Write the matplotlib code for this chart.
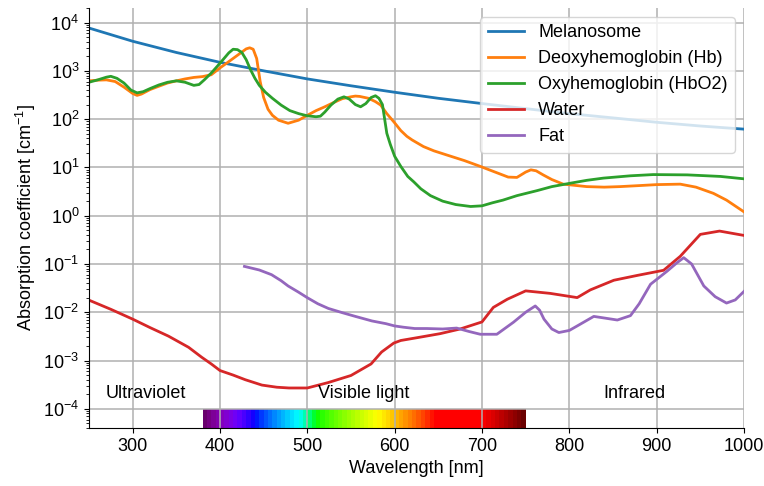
import numpy as np
import matplotlib
matplotlib.use('Agg')
import matplotlib.pyplot as plt
from matplotlib.colors import ListedColormap

plt.rcParams['font.family'] = ['Liberation Sans', 'DejaVu Sans']
plt.rcParams['font.size'] = 13
plt.rcParams['mathtext.fontset'] = 'custom'
plt.rcParams['mathtext.rm'] = 'Liberation Sans'
plt.rcParams['mathtext.it'] = 'Liberation Sans:italic'
plt.rcParams['mathtext.bf'] = 'Liberation Sans:bold'

# Melanosome
mel_wl = [250, 300, 350, 400, 450, 500, 550, 600, 650, 700, 750, 800, 850, 900, 950, 1000]
mel_mu = [7700, 4100, 2400, 1500, 1000, 680, 490, 360, 270, 210, 165, 130, 106, 86, 72, 62]

# Deoxyhemoglobin (Hb)
hb_wl = [250, 260, 270, 280, 290, 300, 305, 310, 320, 330, 340, 350, 360, 370, 380, 390,
         400, 410, 420, 430, 434, 438, 442, 446, 450, 455, 460, 467, 478, 490, 500, 510,
         520, 530, 540, 550, 555, 560, 570, 578, 584, 591, 599, 607, 614, 620, 633, 645,
         660, 680, 698, 715, 730, 740, 750, 756, 762, 770, 780, 793, 820, 840, 858, 880,
         900, 927, 945, 965, 980, 1000]
hb_mu = [620, 640, 650, 600, 460, 340, 310, 330, 410, 480, 560, 620, 680, 730, 760, 830,
         1150, 1550, 2100, 2850, 3000, 2800, 1800, 600, 280, 160, 120, 95, 82, 95, 120, 150,
         180, 220, 265, 290, 300, 295, 270, 230, 195, 130, 88, 58, 44, 37, 27, 22,
         18, 13.8, 10.5, 8.0, 6.3, 6.2, 8.0, 8.9, 8.5, 7.0, 5.6, 4.5, 4.0, 3.9, 4.0, 4.2,
         4.4, 4.5, 3.9, 2.9, 2.1, 1.2]

# Oxyhemoglobin (HbO2)
hbo_wl = [250, 260, 270, 275, 282, 290, 298, 305, 312, 320, 330, 340, 350, 360, 370, 376,
          382, 390, 397, 404, 410, 415, 420, 425, 430, 435, 440, 445, 452, 460, 470, 480,
          490, 500, 510, 515, 520, 527, 535, 542, 548, 555, 561, 567, 573, 578, 582, 586,
          591, 595, 600, 607, 615, 622, 630, 641, 655, 670, 687, 700, 712, 724, 740, 763,
          780, 801, 820, 839, 870, 896, 935, 973, 1000]
hbo_mu = [580, 650, 740, 770, 700, 560, 400, 350, 370, 430, 510, 580, 620, 580, 500, 520,
          650, 900, 1250, 1750, 2350, 2800, 2750, 2400, 1700, 1050, 700, 500, 360, 270, 195, 150,
          130, 117, 112, 115, 140, 195, 260, 290, 260, 200, 180, 210, 280, 305, 270, 200,
          51, 30, 17, 10.5, 6.5, 5.0, 3.6, 2.6, 2.0, 1.7, 1.55, 1.6, 1.85, 2.1, 2.6, 3.3,
          4.0, 4.7, 5.4, 6.0, 6.7, 7.1, 7.0, 6.5, 5.8]

# Water
water_wl = [250, 275, 300, 320, 341, 364, 379, 390, 400, 415, 429, 448, 465, 479, 500, 524,
            550, 573, 585, 599, 607, 627, 652, 675, 700, 713, 729, 750, 778, 809, 824, 851,
            878, 908, 927, 950, 972, 1000]
water_mu = [0.0178, 0.0115, 0.0072, 0.0048, 0.0032, 0.00188, 0.00117, 0.00085, 0.00062,
            0.00050, 0.00040, 0.00031, 0.00028, 0.00027, 0.00027, 0.00035, 0.00049, 0.00085,
            0.0015, 0.0023, 0.0026, 0.0030, 0.0036, 0.0045, 0.0063, 0.0126, 0.0186, 0.0277,
            0.0246, 0.0201, 0.029, 0.046, 0.058, 0.074, 0.144, 0.41, 0.48, 0.39]

# Fat
fat_wl = [428, 445, 459, 470, 478, 490, 500, 512, 524, 540, 555, 574, 590, 600, 610, 623,
          637, 655, 671, 685, 698, 717, 736, 750, 761, 766, 771, 780, 788, 800, 809, 828,
          840, 855, 870, 880, 893, 912, 923, 931, 940, 954, 967, 980, 990, 1000]
fat_mu = [0.089, 0.075, 0.060, 0.045, 0.035, 0.026, 0.020, 0.015, 0.012, 0.0098, 0.0082,
          0.0066, 0.0058, 0.0052, 0.0049, 0.0046, 0.0046, 0.0045, 0.0047, 0.0040, 0.0035,
          0.0035, 0.0062, 0.0100, 0.0135, 0.0110, 0.0072, 0.0045, 0.0038, 0.0042, 0.0052,
          0.0082, 0.0076, 0.0069, 0.0085, 0.015, 0.038, 0.071, 0.105, 0.135, 0.10, 0.035,
          0.021, 0.0155, 0.018, 0.027]

region_labels = ['Ultraviolet', 'Visible light', 'Infrared']
region_x = [315, 565, 875]


def wavelength_to_rgb(wl, gamma=0.8):
    if wl < 440:
        r, g, b = -(wl - 440) / (440 - 380), 0.0, 1.0
    elif wl < 490:
        r, g, b = 0.0, (wl - 440) / (490 - 440), 1.0
    elif wl < 510:
        r, g, b = 0.0, 1.0, -(wl - 510) / (510 - 490)
    elif wl < 580:
        r, g, b = (wl - 510) / (580 - 510), 1.0, 0.0
    elif wl < 645:
        r, g, b = 1.0, -(wl - 645) / (645 - 580), 0.0
    else:
        r, g, b = 1.0, 0.0, 0.0
    if wl < 420:
        f = 0.3 + 0.7 * (wl - 380) / (420 - 380)
    elif wl > 700:
        f = 0.3 + 0.7 * (750 - wl) / (750 - 700)
    else:
        f = 1.0
    return ((r * f) ** gamma, (g * f) ** gamma, (b * f) ** gamma)


ylo, yhi = 4e-5, 2e4

fig = plt.figure(figsize=(7.64, 4.86), dpi=100)
ax = fig.add_axes([0.1165, 0.1193, 0.8573, 0.8642])

# visible spectrum strip
edges = np.arange(380, 751, 5)
centers = (edges[:-1] + edges[1:]) / 2
cmap = ListedColormap([wavelength_to_rgb(w) for w in centers])
ax.pcolormesh(edges, [ylo, 1e-4], np.arange(len(centers)).reshape(1, -1),
              cmap=cmap, shading='flat', antialiased=False, linewidth=0, zorder=1)

ax.plot(mel_wl, mel_mu, color='tab:blue', lw=2, label='Melanosome')
ax.plot(hb_wl, hb_mu, color='tab:orange', lw=2, label='Deoxyhemoglobin (Hb)')
ax.plot(hbo_wl, hbo_mu, color='tab:green', lw=2, label='Oxyhemoglobin (HbO2)')
ax.plot(water_wl, water_mu, color='tab:red', lw=2, label='Water')
ax.plot(fat_wl, fat_mu, color='tab:purple', lw=2, label='Fat')

for lab, x in zip(region_labels, region_x):
    ax.text(x, 2.1e-4, lab, ha='center', va='center', fontsize=13)

ax.set_yscale('log')
ax.set_xlim(250, 1000)
ax.set_ylim(ylo, yhi)
ax.set_xticks([300, 400, 500, 600, 700, 800, 900, 1000])
ax.set_yticks([1e-4, 1e-3, 1e-2, 1e-1, 1e0, 1e1, 1e2, 1e3, 1e4])
ax.grid(True, color='#b0b0b0', lw=1.1)
ax.spines['top'].set_visible(False)
ax.spines['right'].set_visible(False)
ax.set_xlabel('Wavelength [nm]')
ax.set_ylabel('Absorption coefficient [cm$^{-1}$]')
ax.legend(loc='upper right', fontsize=13)

fig.savefig('out.png', dpi=100)
